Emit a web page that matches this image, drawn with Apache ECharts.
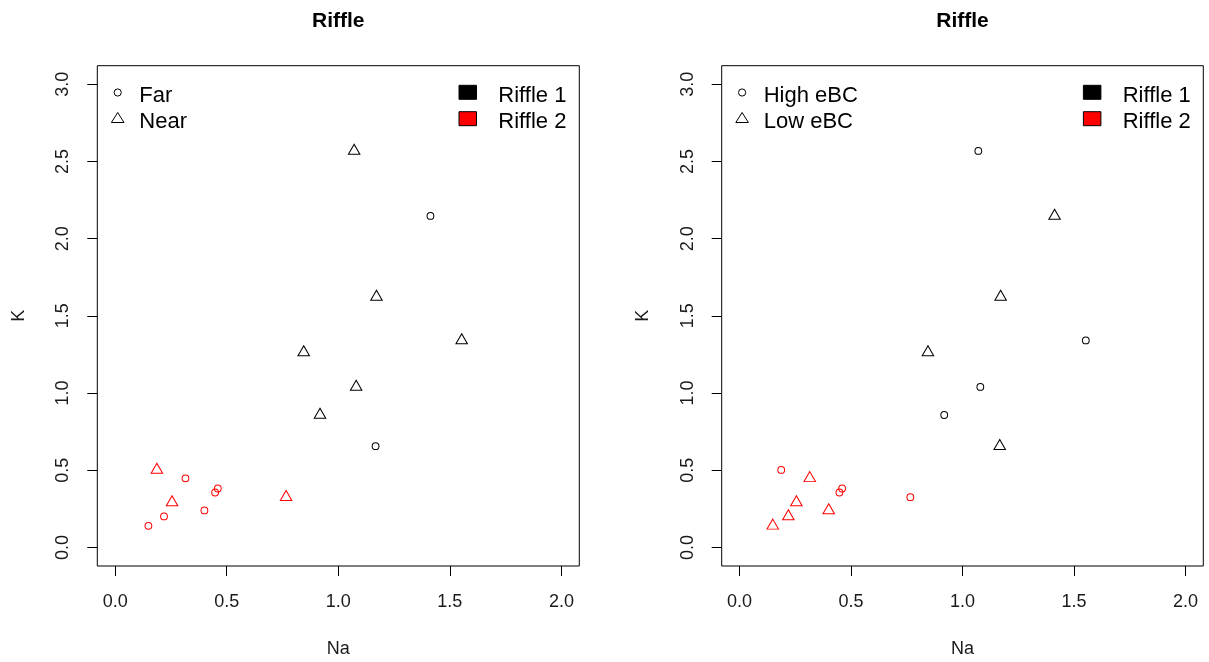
<!DOCTYPE html>
<html><head><meta charset="utf-8">
<script src="https://cdn.jsdelivr.net/npm/echarts@6/dist/echarts.min.js"></script>
<style>html,body{margin:0;padding:0;background:#fff}#c{width:1209px;height:662px}</style>
</head><body><div id="c"></div>
<script>
// ---- data ----
const na       = [1.071, 1.413, 1.171, 1.553, 0.845, 1.080, 0.918, 1.167, 0.187, 0.255, 0.766, 0.149, 0.219, 0.315, 0.400, 0.448, 0.460];
const k        = [2.568, 2.147, 1.622, 1.341, 1.263, 1.040, 0.858, 0.656, 0.502, 0.292, 0.326, 0.140, 0.201, 0.448, 0.240, 0.356, 0.382];
const riffle   = [1, 1, 1, 1, 1, 1, 1, 1, 2, 2, 2, 2, 2, 2, 2, 2, 2];
const distance = ['Near','Far','Near','Near','Near','Near','Near','Far','Near','Near','Near','Far','Far','Far','Far','Far','Far'];
const ebc      = ['High','Low','Low','High','Low','High','High','Low','High','Low','High','Low','Low','Low','Low','High','High'];
const xTicks = [0, 0.5, 1, 1.5, 2];
const yTicks = [0, 0.5, 1, 1.5, 2, 2.5, 3];
const panelTitles = ['Riffle', 'Riffle'];
const groupKeys = [['Far', 'Near'], ['High', 'Low']];
const shapeLegends = [['Far', 'Near'], ['High eBC', 'Low eBC']];
const riffleLegend = ['Riffle 1', 'Riffle 2'];
const xName = 'Na', yName = 'K';

// ---- layout ----
const FONT = "'Liberation Sans', Arial, sans-serif";
const grids = [
  {left: 97.3, top: 65.7, width: 482, height: 500.3},
  {left: 721.7, top: 65.7, width: 481.6, height: 500.3}
];
const riffleColors = {1: '#000000', 2: '#ff0000'};

const chart = echarts.init(document.getElementById('c'), null, {renderer: 'canvas'});
const xAxes = [], yAxes = [], series = [], graphics = [];
const groupsPerPanel = [distance, ebc];

grids.forEach((g, p) => {
  xAxes.push({
    type: 'value', gridIndex: p, min: -0.08, max: 2.08,
    splitLine: {show: false},
    axisLine: {show: false, onZero: false},
    axisTick: {show: true, inside: false, length: 10, customValues: xTicks, lineStyle: {color: '#000', width: 1}},
    axisLabel: {show: true, customValues: xTicks, margin: 27, color: '#1a1a1a', fontSize: 18, fontFamily: FONT,
      formatter: v => v.toFixed(1)}
  });
  yAxes.push({
    type: 'value', gridIndex: p, min: -0.12, max: 3.12,
    splitLine: {show: false},
    axisLine: {show: false, onZero: false},
    axisTick: {show: true, inside: false, length: 10, customValues: yTicks, lineStyle: {color: '#000', width: 1}},
    axisLabel: {show: true, customValues: yTicks, margin: 25, rotate: 90, color: '#1a1a1a', fontSize: 18, fontFamily: FONT,
      formatter: v => v.toFixed(1)}
  });
  const grp = groupsPerPanel[p];
  [1, 2].forEach(r => {
    groupKeys[p].forEach((key, s) => {
      const data = [];
      na.forEach((x, i) => { if (riffle[i] === r && grp[i] === key) data.push([x, k[i]]); });
      series.push({
        type: 'scatter', xAxisIndex: p, yAxisIndex: p, data,
        symbol: s === 0 ? 'circle' : 'triangle',
        symbolSize: s === 0 ? 6.8 : [11.5, 10],
        symbolOffset: s === 0 ? [0, 0] : [0, -1.7],
        itemStyle: {color: 'rgba(0,0,0,0)', borderColor: riffleColors[r], borderWidth: 1, opacity: 1},
        emphasis: {disabled: true}, silent: true, z: 3
      });
    });
  });

  const gl = g.left;
  const cx = gl + g.width / 2;
  // title
  graphics.push({type: 'text', x: cx, y: 21.3, style: {text: panelTitles[p], font: `bold 21px ${FONT}`, fill: '#000', align: 'center', verticalAlign: 'middle'}});
  // axis names
  graphics.push({type: 'text', x: cx, y: 649.3, style: {text: xName, font: `18px ${FONT}`, fill: '#1a1a1a', align: 'center', verticalAlign: 'middle'}});
  graphics.push({type: 'text', x: gl - 78.6, y: g.top + g.height / 2, rotation: Math.PI / 2, style: {text: yName, font: `18px ${FONT}`, fill: '#1a1a1a', align: 'center', verticalAlign: 'middle'}});
  // shape legend
  const lx = gl + 20.4;
  graphics.push({type: 'circle', shape: {cx: lx, cy: 92.5, r: 3.6}, style: {fill: 'none', stroke: '#000', lineWidth: 1}});
  const ty = 117.5;
  graphics.push({type: 'polygon', shape: {points: [[lx, ty - 5], [lx + 6.3, ty + 5], [lx - 6.3, ty + 5]]}, style: {fill: 'none', stroke: '#000', lineWidth: 1}});
  graphics.push({type: 'text', x: gl + 42, y: 96, style: {text: shapeLegends[p][0], font: `22px ${FONT}`, fill: '#000', align: 'left', verticalAlign: 'middle'}});
  graphics.push({type: 'text', x: gl + 42, y: 121.8, style: {text: shapeLegends[p][1], font: `22px ${FONT}`, fill: '#000', align: 'left', verticalAlign: 'middle'}});
  // riffle legend
  graphics.push({type: 'rect', shape: {x: gl + 361.7, y: 85.3, width: 17.5, height: 14}, style: {fill: riffleColors[1], stroke: '#000', lineWidth: 1}});
  graphics.push({type: 'rect', shape: {x: gl + 361.7, y: 111.7, width: 17.5, height: 14}, style: {fill: riffleColors[2], stroke: '#000', lineWidth: 1}});
  graphics.push({type: 'text', x: gl + 401, y: 96, style: {text: riffleLegend[0], font: `22px ${FONT}`, fill: '#000', align: 'left', verticalAlign: 'middle'}});
  graphics.push({type: 'text', x: gl + 401, y: 121.8, style: {text: riffleLegend[1], font: `22px ${FONT}`, fill: '#000', align: 'left', verticalAlign: 'middle'}});
});

chart.setOption({
  animation: false,
  backgroundColor: '#fff',
  grid: grids.map(g => Object.assign({show: true, borderColor: '#000', borderWidth: 1, backgroundColor: 'rgba(0,0,0,0)', containLabel: false}, g)),
  xAxis: xAxes,
  yAxis: yAxes,
  series,
  graphic: graphics
});
</script>
</body></html>
